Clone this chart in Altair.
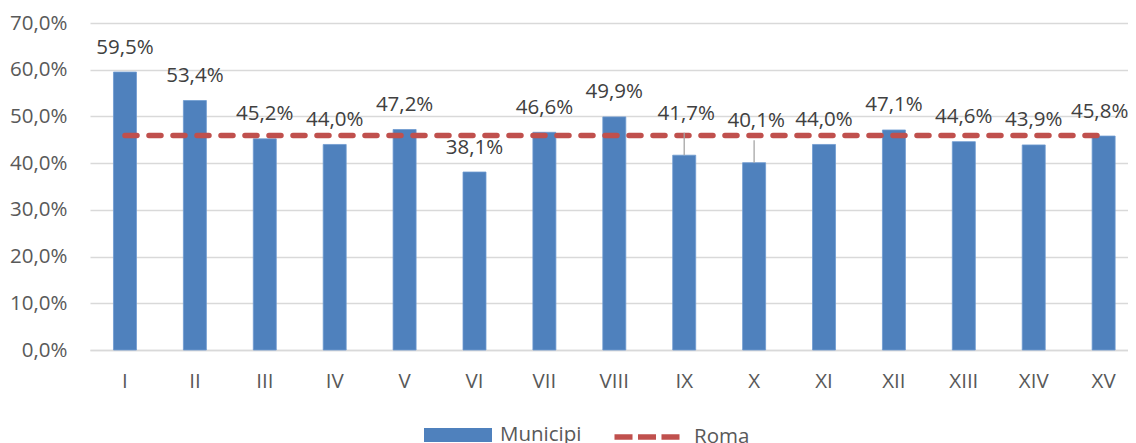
import altair as alt
import pandas as pd

categories = ["I", "II", "III", "IV", "V", "VI", "VII", "VIII", "IX", "X",
              "XI", "XII", "XIII", "XIV", "XV"]
municipi = [59.5, 53.4, 45.2, 44.0, 47.2, 38.1, 46.6, 49.9, 41.7, 40.1,
            44.0, 47.1, 44.6, 43.9, 45.8]
roma = 45.9
raised_labels = ["IX", "X"]
edge_label = "XV"
y_ticks = [0, 10, 20, 30, 40, 50, 60, 70]
series = ["Municipi", "Roma"]

FONT = "Open Sans"
FS = 20.5
BLUE = "#4F81BD"
RED = "#C0504D"
GRID = "#D9D9D9"

df_bar = pd.DataFrame({
    "municipio": categories,
    "valore": municipi,
    "serie": series[0],
    "gruppo": ["rialzato" if c in raised_labels else ("bordo" if c == edge_label else "normale")
               for c in categories],
})
df_line = pd.DataFrame({
    "municipio": categories,
    "valore": [roma] * len(categories),
    "serie": series[1],
})

fmt = "replace(format(datum.valore, '.1f'), '.', ',') + '%'"

x = alt.X(
    "municipio:N", sort=categories,
    scale=alt.Scale(paddingInner=0.671, paddingOuter=0.26, align=0.646),
    axis=alt.Axis(title=None, labelAngle=0, ticks=False, tickSize=0, grid=False,
                  domainColor=GRID, domainWidth=1.5, labelFont=FONT, labelFontSize=FS,
                  labelColor="#595959", labelPadding=21),
)
y = alt.Y(
    "valore:Q",
    scale=alt.Scale(domain=[0, 70], nice=False, zero=True),
    axis=alt.Axis(title=None, values=y_ticks, ticks=False, tickSize=0, domain=False,
                  grid=True, gridColor=GRID, gridWidth=1.5, labelFont=FONT,
                  labelFontSize=FS, labelColor="#595959", labelPadding=23,
                  labelExpr="replace(format(datum.value, '.1f'), '.', ',') + '%'"),
)

RECT_PATH = "M-1,-0.206H1V0.206H-1Z"
DASH_PATH = "M-0.956,0H-0.426M-0.265,0H0.265M0.426,0H0.956"

fill = alt.Fill(
    "serie:N",
    scale=alt.Scale(domain=[series[0]], range=[BLUE]),
    legend=alt.Legend(
        orient="none", legendX=334, legendY=378, direction="horizontal", title=None,
        padding=0, symbolSize=4624, symbolType=RECT_PATH, symbolStrokeWidth=0,
        labelOffset=8, labelFont=FONT, labelFontSize=FS, labelColor="#595959",
    ),
)
stroke = alt.Stroke(
    "serie:N",
    scale=alt.Scale(domain=[series[1]], range=[RED]),
    legend=alt.Legend(
        orient="none", legendX=520, legendY=377, direction="horizontal", title=None,
        padding=0, symbolSize=4624, symbolType=DASH_PATH, symbolStrokeWidth=5.5,
        labelOffset=10, labelFont=FONT, labelFontSize=FS, labelColor="#595959",
    ),
)

base = alt.Chart(df_bar).encode(x=x, y=y)

bars = base.mark_bar(stroke="#6F9AD0", strokeWidth=0.8).encode(fill=fill)

line = alt.Chart(df_line).mark_line(
    strokeWidth=5.5, strokeDash=[12, 12], strokeCap="round"
).encode(x=x, y=y, stroke=stroke)


def labels(group, dy, dx):
    return base.transform_filter(f"datum.gruppo === '{group}'").transform_calculate(
        lbl=fmt
    ).mark_text(dy=dy, dx=dx, font=FONT, fontSize=FS, color="#404040",
                baseline="middle").encode(text="lbl:N")


text_norm = labels("normale", -24.5, 0)
text_raised = labels("rialzato", -41.5, 2)
text_edge = labels("bordo", -24.5, -4)

leaders = base.transform_filter("datum.gruppo === 'rialzato'").transform_calculate(
    top="datum.valore + 4.8"
).mark_rule(color="#A6A6A6", strokeWidth=1.3).encode(y2="top:Q")

chart = alt.layer(bars, line, leaders, text_norm, text_raised, text_edge).properties(
    width=1038, height=327,
    padding={"left": 82, "top": 15, "right": 0, "bottom": 93},
    autosize=alt.AutoSizeParams(type="none"),
).configure_view(stroke=None)

chart.save("out.html", embed_options={"renderer": "svg", "actions": False})
